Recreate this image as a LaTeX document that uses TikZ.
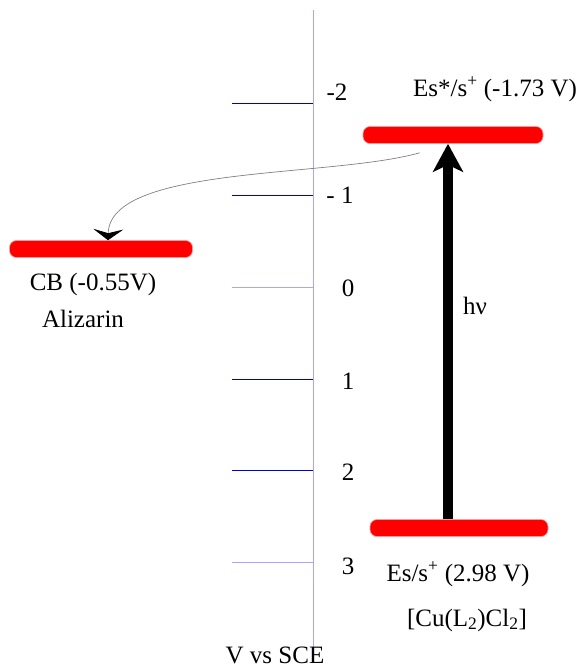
\documentclass[tikz,border=0pt]{standalone}
\usepackage{fontspec}
\setmainfont{Liberation Serif}
\newfontfamily\tnr{Liberation Serif}
\usetikzlibrary{arrows.meta}
\begin{document}
\begin{tikzpicture}[x=1pt,y=-1pt,
  lbl/.style={font=\tnr\fontsize{25}{28}\selectfont, anchor=base, inner sep=0pt},
  bar/.style={fill=red, draw=red!40, line width=0.6pt, rounded corners=7pt, minimum height=17pt, inner sep=0pt},
  darktick/.style={draw=blue!80!black, line width=0.8pt},
  lighttick/.style={draw=blue!35, line width=0.8pt},
  bigarrow/.style={line width=10pt, -{Stealth[length=28pt,width=30pt,inset=7pt]}},
  transfer/.style={draw=gray, line width=0.7pt, -{Stealth[length=11pt,width=30pt,inset=4pt,black]}}]
\useasboundingbox (0,0) rectangle (577,667);
% axis
\coordinate (atop) at (313,10);
\coordinate (abot) at (313,650);
\draw[blue!35, line width=0.8pt] (atop) -- (abot);
% ticks
\coordinate (t1) at (232,103); \draw[darktick] (t1) -- (t1 -| atop);
\coordinate (t2) at (232,195); \draw[darktick] (t2) -- (t2 -| atop);
\coordinate (t3) at (232,287); \draw[lighttick] (t3) -- (t3 -| atop);
\coordinate (t4) at (232,379); \draw[darktick] (t4) -- (t4 -| atop);
\coordinate (t5) at (232,470); \draw[darktick] (t5) -- (t5 -| atop);
\coordinate (t6) at (232,562); \draw[lighttick] (t6) -- (t6 -| atop);
% tick labels
\node[lbl] (l1) at (337,100) {-2};
\node[lbl] (l2) at (340,203) {- 1};
\node[lbl] (l3) at (348,296) {0};
\node[lbl] (l4) at (348,389) {1};
\node[lbl] (l5) at (348,480) {2};
\node[lbl] (l6) at (348,574) {3};
\node[lbl] (axl) at (275,663) {V vs SCE};
% levels
\node[bar, minimum width=180pt] (es) at (453,135) {};
\node[bar, minimum width=183pt] (cb) at (101,249) {};
\node[bar, minimum width=178pt] (gs) at (459,528) {};
% labels
\node[lbl] (esl) at (495,96) {Es*/s\textsuperscript{+} (-1.73 V)};
\node[lbl] (cbl) at (93,290) {CB (-0.55V)};
\node[lbl] (alz) at (83,327) {Alizarin};
\node[lbl] (hv) at (475,314) {hν};
\node[lbl] (gsl) at (458,581) {Es/s\textsuperscript{+} (2.98 V)};
\node[lbl] (cul) at (467,626) {[Cu(L\textsubscript{2})Cl\textsubscript{2}]};
% arrows
\draw[bigarrow] (448,0 |- gs.north) -- (448,0 |- es.south);
\draw[transfer] (es.south west) ++(57,9) .. controls (330,178) and (110,165) .. (108,0 |- cb.north);
\end{tikzpicture}
\end{document}
